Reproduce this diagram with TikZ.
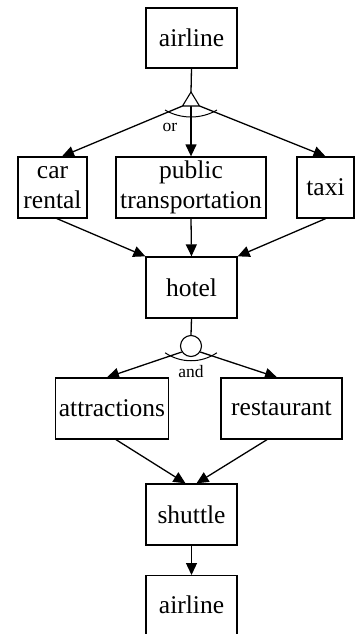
\documentclass[tikz,border=0pt]{standalone}
\usepackage{fontspec}
\setmainfont{Liberation Serif}
\usetikzlibrary{arrows.meta,calc}
\begin{document}
\begin{tikzpicture}[x=1pt,y=-1pt,
  every path/.style={line width=1.3pt},
  box/.style={draw,line width=1.3pt,align=center,inner sep=0pt,
    font=\fontsize{25.5}{29.5}\selectfont},
  arr/.style={-{Triangle[length=12pt,width=11pt]}},
  lbl/.style={font=\fontsize{17.5}{20}\selectfont,inner sep=0pt}]
\useasboundingbox (0,0) rectangle (355,634);
\node[box,minimum width=91pt,minimum height=60pt] (air1) at (191.5,38) {airline};
\node[box,minimum width=69pt,minimum height=61pt] (car) at (52.5,187.5) {car\\rental};
\node[box,minimum width=150pt,minimum height=61pt] (pub) at (191,187.5) {public\\transportation};
\node[box,minimum width=57pt,minimum height=61pt] (taxi) at (325.5,187.5) {taxi};
\node[box,minimum width=91pt,minimum height=61pt] (hotel) at (191.5,287.5) {hotel};
\node[box,minimum width=113pt,minimum height=61pt] (attr) at (112,408.5) {attractions};
\node[box,minimum width=121pt,minimum height=61pt] (rest) at (281.5,408.5) {restaurant};
\node[box,minimum width=91pt,minimum height=61pt] (shut) at (191.5,514.5) {shuttle};
\node[box,minimum width=91pt,minimum height=80pt,anchor=north] (air2) at (191.5,575) {};
\node[font=\fontsize{25.5}{29.5}\selectfont,inner sep=0pt] (air2t) at (191.5,605) {airline};
% or gateway
\coordinate (orA) at (191,92);
\coordinate (orL) at (182.5,106);
\coordinate (orR) at (199.5,106);
\coordinate (orB) at (191,106);
\draw (air1.south) -- (orA);
\draw[line width=1pt] (191,65) ++(120:52) arc[start angle=120,end angle=60,radius=52];
\draw[arr] (orB) -- (pub.north);
\draw[arr] (orL) -- ($(car.north)+(9.5,0)$);
\draw[arr] (orR) -- (taxi.north);
\draw[fill=white,line width=1.1pt] (orA) -- (orL) -- (orR) -- cycle;
\node[lbl] (orlbl) at (170,127) {or};
% to hotel
\draw[arr] ($(car.south)+(4.5,0)$) -- (hotel.north west);
\draw[arr] (pub.south) -- (hotel.north);
\draw[arr] (taxi.south) -- (hotel.north east);
% and gateway
\node[draw,circle,minimum size=21pt,inner sep=0pt,line width=1.1pt] (andC) at (191,346) {};
\draw (hotel.south) -- (andC.north);
\draw[line width=1pt] (191,314.75) ++(124.2:46) arc[start angle=124.2,end angle=55.8,radius=46];
\draw[arr] (andC.213) -- ($(attr.north)+(-5,0)$);
\draw[arr] (andC.-33) -- ($(rest.north)+(-4.5,0)$);
\node[lbl] (andlbl) at (191,372) {and};
% to shuttle
\draw[arr] ($(attr.south)+(4,0)$) -- ($(shut.north)+(-6,0)$);
\draw[arr] ($(rest.south)+(-14.5,0)$) -- ($(shut.north)+(5,0)$);
\draw[arr] (shut.south) -- (air2.north);
\end{tikzpicture}
\end{document}
